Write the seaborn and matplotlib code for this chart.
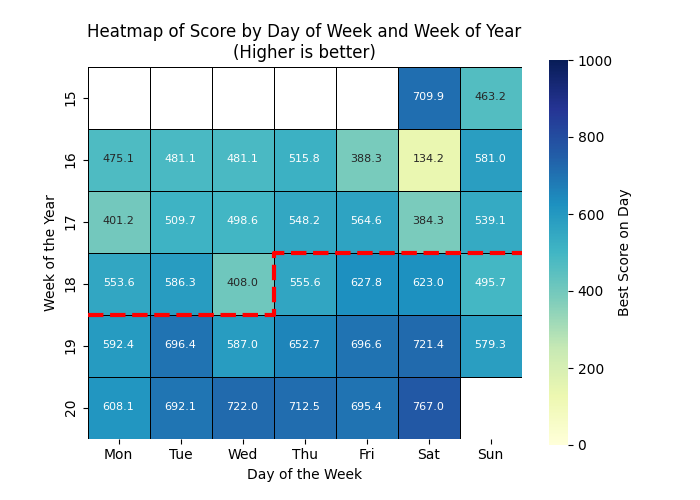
import numpy as np
import pandas as pd
import seaborn as sns
import matplotlib.pyplot as plt
from matplotlib.colors import ListedColormap

days = ['Mon', 'Tue', 'Wed', 'Thu', 'Fri', 'Sat', 'Sun']
weeks = [15, 16, 17, 18, 19, 20]

wk15 = [np.nan, np.nan, np.nan, np.nan, np.nan, 709.9, 463.2]
wk16 = [475.1, 481.1, 481.1, 515.8, 388.3, 134.2, 581.0]
wk17 = [401.2, 509.7, 498.6, 548.2, 564.6, 384.3, 539.1]
wk18 = [553.6, 586.3, 408.0, 555.6, 627.8, 623.0, 495.7]
wk19 = [592.4, 696.4, 587.0, 652.7, 696.6, 721.4, 579.3]
wk20 = [608.1, 692.1, 722.0, 712.5, 695.4, 767.0, np.nan]

# where the change happened (red dashed boundary)
change_week = 18
change_day = 'Thu'

scores = pd.DataFrame([wk15, wk16, wk17, wk18, wk19, wk20], index=weeks, columns=days)

# empty days before the first recorded day get drawn as blank bordered cells
flat = scores.values.ravel()
first = np.argmax(~np.isnan(flat))
before = np.zeros(flat.shape, dtype=bool)
before[:first] = True
blank = pd.DataFrame(np.where(before, 1.0, np.nan).reshape(scores.shape), index=weeks, columns=days)

fig, ax = plt.subplots(figsize=(7, 5), dpi=100)
sns.heatmap(blank, cmap=ListedColormap(['white']), linewidths=0.5, linecolor='black',
            cbar=False, square=True, ax=ax)
sns.heatmap(scores, cmap='YlGnBu', vmin=0, vmax=1000, annot=True, fmt='.1f',
            annot_kws={'size': 8}, linewidths=0.5, linecolor='black', square=True,
            cbar_kws={'label': 'Best Score on Day'}, ax=ax)

r = weeks.index(change_week)
c = days.index(change_day)
ax.plot([0, c, c, len(days)], [r + 1, r + 1, r, r], color='red', linestyle='--',
        linewidth=3, clip_on=False)

ax.set_title('Heatmap of Score by Day of Week and Week of Year\n(Higher is better)')
ax.set_xlabel('Day of the Week')
ax.set_ylabel('Week of the Year')
plt.yticks(rotation=90, va='center')
plt.savefig('out.png')
